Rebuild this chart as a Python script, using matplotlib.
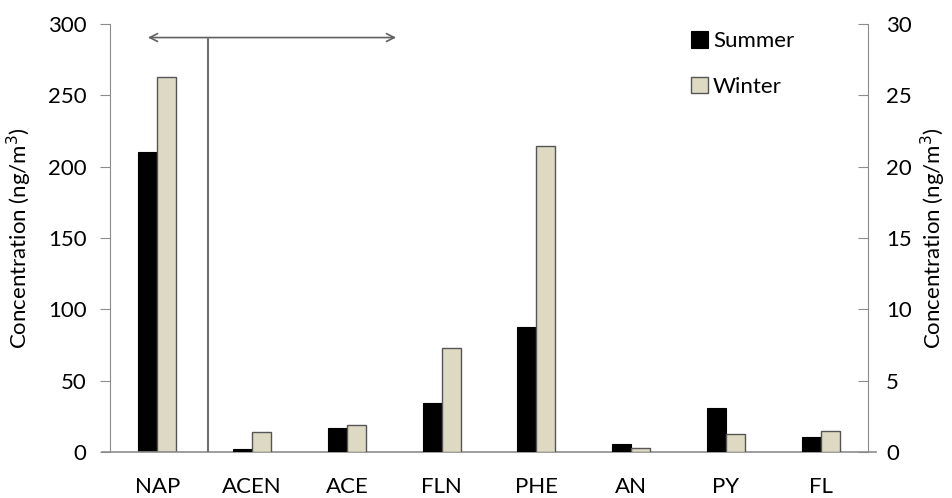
import matplotlib
matplotlib.use("Agg")
import matplotlib.pyplot as plt
import numpy as np

plt.rcParams['font.family'] = ['Lato', 'DejaVu Sans']

categories = ["NAP", "ACEN", "ACE", "FLN", "PHE", "AN", "PY", "FL"]
# NAP on left axis (ng/m3), the others on right axis (ng/m3)
summer = [210, 0.23, 1.66, 3.41, 8.74, 0.54, 3.06, 1.07]
winter = [263, 1.42, 1.87, 7.31, 21.47, 0.28, 1.24, 1.47]
left_ticks = [0, 50, 100, 150, 200, 250, 300]
right_ticks = [0, 5, 10, 15, 20, 25, 30]

summer_color = "#000000"
winter_color = "#DDD9C3"
edge = "#555555"
axis_gray = "#8C8C8C"
fs = 16

fig = plt.figure(figsize=(9.53, 4.98), dpi=100)
ax = fig.add_axes([0.1154, 0.0924, 0.7954, 0.8594])
ax2 = ax.twinx()

x = np.arange(len(categories))
w = 0.2
ax.bar(x[:1] - w / 2, summer[:1], w, color=summer_color, edgecolor=summer_color, linewidth=0.8, label="Summer")
ax.bar(x[:1] + w / 2, winter[:1], w, color=winter_color, edgecolor=edge, linewidth=1.0, label="Winter")
ax2.bar(x[1:] - w / 2, summer[1:], w, color=summer_color, edgecolor=summer_color, linewidth=0.8)
ax2.bar(x[1:] + w / 2, winter[1:], w, color=winter_color, edgecolor=edge, linewidth=1.0)

ax.set_xlim(-0.5, len(categories) - 0.5)
ax.set_ylim(0, 300)
ax2.set_ylim(0, 30)
ax.set_yticks(left_ticks)
ax2.set_yticks(right_ticks)
ax.set_xticks(x)
ax.set_xticklabels(categories)

for a in (ax, ax2):
    for s in a.spines.values():
        s.set_visible(False)
ax.spines['left'].set_visible(True)
ax.spines['left'].set_color(axis_gray)
ax2.spines['right'].set_visible(True)
ax2.spines['right'].set_color(axis_gray)

ax.tick_params(axis='y', direction='out', length=7, color=axis_gray, labelsize=fs, pad=10)
ax2.tick_params(axis='y', direction='in', length=7, color=axis_gray, labelsize=fs, pad=13)
ax.tick_params(axis='x', length=0, labelsize=fs, pad=18)

# bottom axis line slightly extended
ax.plot([-0.58, 7.58], [0, 0], color=axis_gray, lw=1.2, clip_on=False, zorder=3)

ax.set_ylabel("Concentration (ng/m$^3$)", fontsize=fs, labelpad=10)
ax2.set_ylabel("Concentration (ng/m$^3$)", fontsize=fs, labelpad=5)

# separator line and double arrow
ax.plot([0.53, 0.53], [0, 290], color="#707070", lw=1.5, zorder=4)
ax.annotate("", xy=(-0.1, 290.5), xytext=(2.52, 290.5),
            arrowprops=dict(arrowstyle="<->", color="#606060", lw=1.2,
                            shrinkA=0, shrinkB=0, mutation_scale=14))

leg = ax.legend(loc="upper left", bbox_to_anchor=(0.74, 1.03), frameon=False,
                fontsize=fs, handlelength=0.75, handleheight=0.75,
                handletextpad=0.25, labelspacing=1.15)

fig.savefig("out.png", dpi=100)
